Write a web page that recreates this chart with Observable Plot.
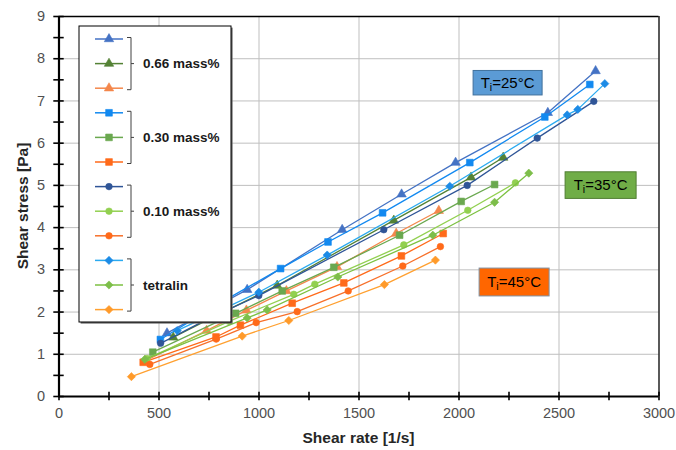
<!DOCTYPE html>
<html><head><meta charset="utf-8">
<script src="https://cdn.jsdelivr.net/npm/d3@7"></script>
<script src="https://cdn.jsdelivr.net/npm/@observablehq/plot@0.6"></script>
<style>body{margin:0;background:#fff}#chart{width:676px;height:450px}</style>
</head><body><div id="chart"></div>
<script>
// ---- data (shear rate [1/s], shear stress [Pa]) ----
const s066_25 = [[540,1.50],[740,2.02],[941,2.53],[1416,3.95],[1713,4.79],[1983,5.54],[2444,6.72],[2683,7.71]];
const s066_35 = [[571,1.40],[800,1.95],[1091,2.63],[1674,4.17],[2060,5.19],[2221,5.66]];
const s066_45 = [[430,0.84],[738,1.56],[937,2.04],[1137,2.50],[1390,3.07],[1686,3.86],[1899,4.40]];
const s030_25 = [[507,1.35],[800,2.20],[1108,3.03],[1345,3.66],[1618,4.35],[2054,5.54],[2429,6.62],[2654,7.39]];
const s030_35 = [[469,1.05],[883,1.97],[1116,2.50],[1374,3.06],[1703,3.82],[2011,4.62],[2178,5.02]];
const s030_45 = [[421,0.81],[785,1.41],[907,1.69],[1166,2.21],[1424,2.69],[1712,3.33],[1921,3.86]];
const s010_25 = [[508,1.26],[750,1.85],[999,2.39],[1624,3.95],[2041,5.00],[2391,6.12],[2674,6.99]];
const s010_35 = [[440,0.90],[850,1.78],[1174,2.42],[1279,2.66],[1724,3.59],[2044,4.41],[2282,5.06]];
const s010_45 = [[454,0.76],[786,1.36],[986,1.75],[1191,2.01],[1446,2.50],[1719,3.09],[1907,3.55]];
const tet_25  = [[591,1.56],[999,2.47],[1341,3.35],[1954,4.98],[2541,6.67],[2594,6.80],[2729,7.41]];
const tet_35  = [[429,0.88],[941,1.86],[1041,2.05],[1394,2.83],[1869,3.82],[2178,4.60],[2349,5.29]];
const tet_45  = [[362,0.47],[916,1.43],[1149,1.80],[1627,2.65],[1882,3.23]];

const groupLabels = ["0.66 mass%","0.30 mass%","0.10 mass%","tetralin"];
const tempLabels = ["=25°C","=35°C","=45°C"];
const xTicks = [0,500,1000,1500,2000,2500,3000];
const yTicks = [0,1,2,3,4,5,6,7,8,9];
const xLabel = "Shear rate [1/s]";
const yLabel = "Shear stress [Pa]";
// annotation boxes in data units [x1,x2,y1,y2]
const tempBoxes = [[2073,2418,7.13,7.71],[2533,2888,4.68,5.31],[2103,2453,2.37,3.03]];

// ---- styles ----
const series = [
  {data:s066_25, line:"#4472C4", fill:"#4472C4", symbol:"triangle", r:3.5},
  {data:s066_35, line:"#548235", fill:"#548235", symbol:"triangle", r:3.5},
  {data:s066_45, line:"#F4874B", fill:"#F4874B", symbol:"triangle", r:3.5},
  {data:s030_25, line:"#1289F0", fill:"#1289F0", symbol:"square", r:3.8},
  {data:s030_35, line:"#6AA84F", fill:"#6AA84F", symbol:"square", r:3.8},
  {data:s030_45, line:"#FF6A1A", fill:"#FF6A1A", symbol:"square", r:3.8},
  {data:s010_25, line:"#2F5597", fill:"#2F5597", symbol:"circle", r:3.3},
  {data:s010_35, line:"#92D050", fill:"#92D050", symbol:"circle", r:3.3},
  {data:s010_45, line:"#F7702A", fill:"#FF6A1A", symbol:"circle", r:3.3},
  {data:tet_25,  line:"#2AAAF0", fill:"#1C8BE6", symbol:"diamond2", r:3.7},
  {data:tet_35,  line:"#7CC142", fill:"#7DBE4A", symbol:"diamond2", r:3.7},
  {data:tet_45,  line:"#FFA030", fill:"#FF9A2A", symbol:"diamond2", r:3.7}
];
const boxStyles = [
  {fill:"#5B9BD5", stroke:"#41719C"},
  {fill:"#70AD47", stroke:"#507E32"},
  {fill:"#FF6600", stroke:"#7F8FA0"}
];

const seriesMarks = series.flatMap(s => [
  Plot.line(s.data, {x:d=>d[0], y:d=>d[1], stroke:s.line, strokeWidth:1.3}),
  Plot.dot(s.data, {x:d=>d[0], y:d=>d[1], symbol:s.symbol, r:s.r, fill:s.fill, stroke:s.fill, strokeWidth:0.6})
]);

const W = 676, H = 450, ML = 58.5, MR = 17.5, MT = 16, MB = 54;
const plot = Plot.plot({
  width:W, height:H,
  marginLeft:ML, marginRight:MR, marginTop:MT, marginBottom:MB,
  x:{domain:[0,3000]},
  y:{domain:[0,9]},
  style:{fontFamily:"'Liberation Sans', Arial, sans-serif", fontSize:"15px", background:"#fff"},
  marks:[
    Plot.ruleX(xTicks.slice(1,-1), {stroke:"#bfbfbf", strokeWidth:1}),
    Plot.ruleY(yTicks.slice(1,-1), {stroke:"#bfbfbf", strokeWidth:1}),
    Plot.ruleY([9], {stroke:"#000", strokeWidth:1.3}),
    Plot.ruleX([3000], {stroke:"#000", strokeWidth:1.3}),
    ...seriesMarks,
    Plot.rect(tempBoxes, {x1:d=>d[0], x2:d=>d[1], y1:d=>d[2], y2:d=>d[3],
      fill:(d,i)=>boxStyles[i].fill, stroke:(d,i)=>boxStyles[i].stroke, strokeWidth:1}),
    Plot.ruleX([0], {stroke:"#000", strokeWidth:2.2}),
    Plot.ruleY([0], {stroke:"#000", strokeWidth:2.2}),
    Plot.ruleX(d3.range(0,3001,250), {y1:-0.1, y2:0.1, stroke:"#000", strokeWidth:1.6}),
    Plot.ruleY(d3.range(0,9.01,0.5), {x1:-26, x2:26, stroke:"#000", strokeWidth:1.6}),
    Plot.axisX({ticks:xTicks, tickFormat:d3.format("d"), tickSize:0, tickPadding:11, label:null, color:"#505050", fontSize:14.5}),
    Plot.axisY({ticks:yTicks, tickFormat:d3.format("d"), tickSize:0, tickPadding:14, label:null, color:"#505050", fontSize:14.5})
  ]
});

const svg = d3.select(plot);
const sx = plot.scale("x"), sy = plot.scale("y");

// axis titles
svg.append("text").attr("x",(ML + W - MR)/2).attr("y",H - MB + 41).attr("dy","0.36em")
  .attr("text-anchor","middle").attr("font-size",15.5).attr("font-weight","bold").attr("fill","#262626").text(xLabel);
svg.append("text").attr("transform",`translate(22,${(MT + H - MB)/2}) rotate(-90)`).attr("dy","0.36em")
  .attr("text-anchor","middle").attr("font-size",15.5).attr("font-weight","bold").attr("fill","#262626").text(yLabel);

// temperature annotations
tempBoxes.forEach((b,i) => {
  const cx = sx.apply((b[0]+b[1])/2), cy = sy.apply((b[2]+b[3])/2);
  const t = svg.append("text").attr("x",cx).attr("y",cy+5).attr("text-anchor","middle")
    .attr("font-size",15).attr("fill","#000");
  t.append("tspan").text("T");
  t.append("tspan").attr("font-size",10.5).attr("dy",3).text("i");
  t.append("tspan").attr("dy",-3).text(tempLabels[i]);
});

// legend
const lg = svg.append("g").attr("text-anchor","start");
const L = {x:79, y:26, w:152, h:296, row0:39, step:24.6, lx1:95, lx2:123, mx:109};
lg.append("rect").attr("x",L.x+1.6).attr("y",L.y+1.6).attr("width",L.w).attr("height",L.h).attr("fill","#666");
lg.append("rect").attr("x",L.x).attr("y",L.y).attr("width",L.w).attr("height",L.h)
  .attr("fill","#fff").attr("stroke","#000").attr("stroke-width",1);
const symMap = {triangle:d3.symbolTriangle, square:d3.symbolSquare, circle:d3.symbolCircle, diamond2:d3.symbolDiamond2};
series.forEach((s,i) => {
  const yy = L.row0 + i*L.step;
  lg.append("line").attr("x1",L.lx1).attr("x2",L.lx2).attr("y1",yy).attr("y2",yy)
    .attr("stroke",s.line).attr("stroke-width",1.5);
  lg.append("path").attr("d", d3.symbol(symMap[s.symbol], Math.PI*s.r*s.r)())
    .attr("transform",`translate(${L.mx},${yy})`).attr("fill",s.fill).attr("stroke",s.fill).attr("stroke-width",0.6);
});
groupLabels.forEach((g,k) => {
  const top = L.row0 + (3*k)*L.step - 1.5, bot = L.row0 + (3*k+2)*L.step + 1.5, mid = L.row0 + (3*k+1)*L.step;
  lg.append("path").attr("d",`M127,${top}H131V${bot}H127M131,${mid}H134`)
    .attr("fill","none").attr("stroke","#404040").attr("stroke-width",1);
  lg.append("text").attr("x",143).attr("y",mid).attr("dy","0.36em").attr("text-anchor","start")
    .attr("font-size",13.5).attr("font-weight","bold").attr("fill","#1a1a1a").text(g);
});

document.getElementById("chart").appendChild(plot);
</script></body></html>
